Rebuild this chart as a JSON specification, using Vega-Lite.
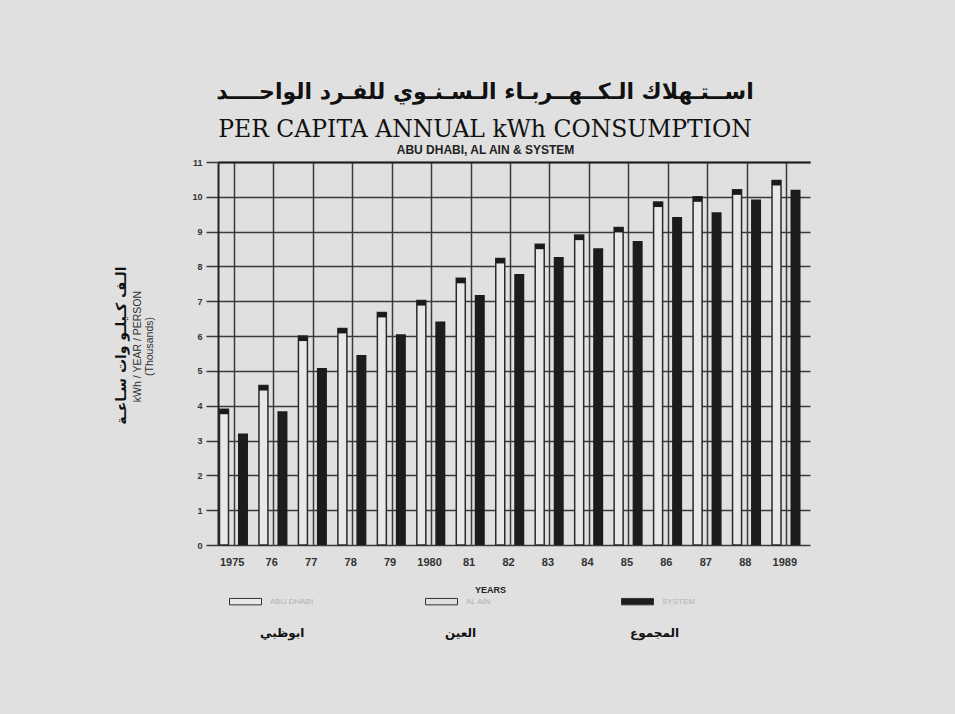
{
  "$schema": "https://vega.github.io/schema/vega-lite/v6.json",
  "autosize": "none",
  "width": 592,
  "height": 383,
  "padding": {"left": 218, "top": 162, "right": 145, "bottom": 169},
  "background": "#e0e0e0",
  "config": {"view": {"stroke": null}},
  "title": {
    "text": "اســتـهلاك الـكــهــربـاء الـسـنـوي للفـرد الواحــــد",
    "subtitle": "PER CAPITA ANNUAL kWh CONSUMPTION",
    "font": "DejaVu Sans",
    "fontSize": 22,
    "fontWeight": "bold",
    "color": "#111111",
    "subtitleFont": "DejaVu Serif",
    "subtitleFontSize": 23.5,
    "subtitleColor": "#111111",
    "subtitleFontWeight": "normal",
    "subtitlePadding": 14,
    "anchor": "middle",
    "dx": -29,
    "offset": 1
  },
  "data": {
    "values": [
      {"year": "1975", "series": "ABU DHABI", "ar": "ابوظبي", "value": 3.9},
      {"year": "76", "series": "ABU DHABI", "ar": "ابوظبي", "value": 4.58},
      {"year": "77", "series": "ABU DHABI", "ar": "ابوظبي", "value": 6.0},
      {"year": "78", "series": "ABU DHABI", "ar": "ابوظبي", "value": 6.22},
      {"year": "79", "series": "ABU DHABI", "ar": "ابوظبي", "value": 6.68},
      {"year": "1980", "series": "ABU DHABI", "ar": "ابوظبي", "value": 7.02},
      {"year": "81", "series": "ABU DHABI", "ar": "ابوظبي", "value": 7.66},
      {"year": "82", "series": "ABU DHABI", "ar": "ابوظبي", "value": 8.23},
      {"year": "83", "series": "ABU DHABI", "ar": "ابوظبي", "value": 8.64},
      {"year": "84", "series": "ABU DHABI", "ar": "ابوظبي", "value": 8.9},
      {"year": "85", "series": "ABU DHABI", "ar": "ابوظبي", "value": 9.12},
      {"year": "86", "series": "ABU DHABI", "ar": "ابوظبي", "value": 9.85},
      {"year": "87", "series": "ABU DHABI", "ar": "ابوظبي", "value": 10.0},
      {"year": "88", "series": "ABU DHABI", "ar": "ابوظبي", "value": 10.2},
      {"year": "1989", "series": "ABU DHABI", "ar": "ابوظبي", "value": 10.47},
      {"year": "1975", "series": "SYSTEM", "ar": "المجموع", "value": 3.2},
      {"year": "76", "series": "SYSTEM", "ar": "المجموع", "value": 3.84},
      {"year": "77", "series": "SYSTEM", "ar": "المجموع", "value": 5.08},
      {"year": "78", "series": "SYSTEM", "ar": "المجموع", "value": 5.46},
      {"year": "79", "series": "SYSTEM", "ar": "المجموع", "value": 6.05},
      {"year": "1980", "series": "SYSTEM", "ar": "المجموع", "value": 6.42},
      {"year": "81", "series": "SYSTEM", "ar": "المجموع", "value": 7.18},
      {"year": "82", "series": "SYSTEM", "ar": "المجموع", "value": 7.78},
      {"year": "83", "series": "SYSTEM", "ar": "المجموع", "value": 8.27},
      {"year": "84", "series": "SYSTEM", "ar": "المجموع", "value": 8.52},
      {"year": "85", "series": "SYSTEM", "ar": "المجموع", "value": 8.73},
      {"year": "86", "series": "SYSTEM", "ar": "المجموع", "value": 9.42},
      {"year": "87", "series": "SYSTEM", "ar": "المجموع", "value": 9.56},
      {"year": "88", "series": "SYSTEM", "ar": "المجموع", "value": 9.92},
      {"year": "1989", "series": "SYSTEM", "ar": "المجموع", "value": 10.2}
    ]
  },
  "resolve": {"axis": {"x": "independent", "y": "independent"}},
  "layer": [
    {
      "transform": [{"filter": "datum.series === 'ABU DHABI'"}],
      "mark": {"type": "bar", "width": 9, "xOffset": -13.75, "stroke": "#2a2a2a", "strokeWidth": 1.5},
      "encoding": {
        "x": {
          "field": "year", "type": "nominal", "sort": null,
          "scale": {"paddingInner": 0, "paddingOuter": 0},
          "axis": {
            "orient": "bottom", "title": "YEARS", "titleFont": "Liberation Sans", "titleFontSize": 9,
            "titleFontWeight": "bold", "titleColor": "#222222", "titleX": 272, "titlePadding": 18,
            "labelAngle": 0, "labelFont": "Liberation Sans", "labelFontSize": 11, "labelFontWeight": "bold",
            "labelColor": "#333333", "labelPadding": 11, "ticks": false, "domain": false,
            "grid": true, "gridColor": "#3a3a3a", "gridWidth": 1.5, "gridOpacity": 1,
            "tickOffset": -4, "labelOffset": -2
          }
        },
        "y": {
          "field": "value", "type": "quantitative",
          "scale": {"domain": [0, 11], "nice": false},
          "axis": {
            "orient": "left", "values": [0,1,2,3,4,5,6,7,8,9,10,11],
            "title": ["kWh / YEAR / PERSON", "(Thousands)"],
            "titleFont": "Liberation Sans", "titleFontSize": 10.5, "titleFontWeight": "normal", "titleColor": "#333333",
            "titlePadding": 37, "titleLineHeight": 12, "titleY": 184,
            "labelFont": "Liberation Sans", "labelFontSize": 9, "labelFontWeight": "bold", "labelColor": "#333333",
            "labelPadding": 4, "tickSize": 12, "tickColor": "#3a3a3a", "tickWidth": 1.5,
            "domain": true, "domainColor": "#222222", "domainWidth": 2,
            "grid": true, "gridColor": "#3a3a3a", "gridWidth": 1.5, "gridOpacity": 1
          }
        },
        "color": {
          "field": "series", "type": "nominal",
          "scale": {"domain": ["ABU DHABI", "AL AIN", "SYSTEM"], "range": ["#e8e8e8", "#dedede", "#1c1c1c"]},
          "legend": {
            "orient": "none", "legendX": 19, "legendY": 431, "direction": "horizontal", "title": null,
            "symbolType": "M-2,-0.4H2V0.4H-2Z", "symbolSize": 256, "symbolStrokeColor": "#333333", "symbolStrokeWidth": 1,
            "labelFont": "Liberation Sans", "labelFontSize": 8, "labelColor": "#b0b0b0", "labelOffset": 16,
            "columnPadding": 109, "gridAlign": "all", "symbolOpacity": 1
          }
        }
      }
    },
    {
      "transform": [{"filter": "datum.series === 'ABU DHABI'"}],
      "mark": {"type": "tick", "size": 9, "thickness": 5, "xOffset": -13.75, "yOffset": 2.5, "color": "#1a1a1a", "opacity": 1},
      "encoding": {
        "x": {"field": "year", "type": "nominal", "sort": null, "axis": null},
        "y": {"field": "value", "type": "quantitative", "axis": null}
      }
    },
    {
      "transform": [{"filter": "datum.series === 'SYSTEM'"}],
      "mark": {"type": "bar", "width": 10, "xOffset": 5.25},
      "encoding": {
        "x": {
          "field": "year", "type": "nominal", "sort": null,
          "axis": {
            "orient": "top", "title": "ABU DHABI, AL AIN  &  SYSTEM", "titleFont": "Liberation Sans",
            "titleFontSize": 12, "titleFontWeight": "bold", "titleColor": "#222222", "titleX": 267, "titlePadding": 6,
            "labels": false, "ticks": false, "domain": true, "domainColor": "#222222", "domainWidth": 2, "grid": false
          }
        },
        "y": {
          "field": "value", "type": "quantitative",
          "axis": {
            "orient": "left", "offset": 86, "title": "الـف كـيلـو وات سـاعـة", "titleFont": "DejaVu Sans", "titleFontSize": 14,
            "titleFontWeight": "bold", "titleColor": "#111111", "titlePadding": 4, "titleY": 183,
            "labels": false, "ticks": false, "domain": false, "grid": false
          }
        },
        "color": {"field": "series", "type": "nominal"},
        "strokeDash": {
          "field": "ar", "type": "nominal",
          "scale": {"domain": ["ابوظبي", "العين", "المجموع"], "range": [[1, 0], [1, 0], [1, 0]]},
          "legend": {
            "orient": "none", "legendX": 30, "legendY": 465, "direction": "horizontal", "title": null,
            "symbolSize": 0, "symbolOpacity": 0, "symbolStrokeWidth": 0,
            "labelFont": "DejaVu Sans", "labelFontSize": 12, "labelFontWeight": "bold", "labelColor": "#111111",
            "labelOffset": 0, "columnPadding": 123, "gridAlign": "all"
          }
        }
      }
    }
  ]
}
